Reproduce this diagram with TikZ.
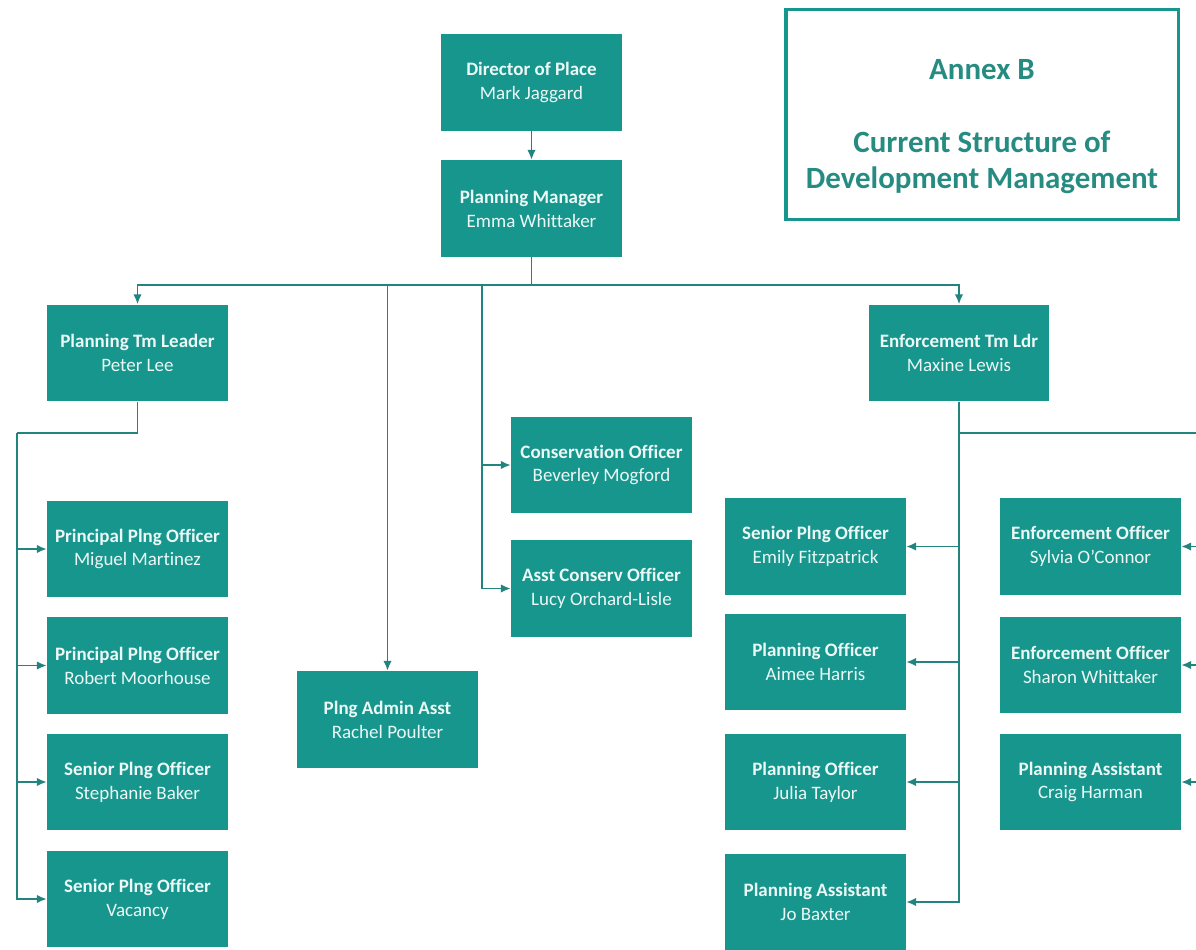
\documentclass[tikz,border=0pt]{standalone}
\usepackage{fontspec}
\setmainfont[Ligatures=NoCommon]{Carlito}
\usetikzlibrary{arrows.meta,positioning}
\definecolor{dmteal}{RGB}{22,150,141}
\definecolor{dmline}{RGB}{34,132,126}
\definecolor{dmtext}{RGB}{236,248,246}
\definecolor{dmhead}{RGB}{38,140,130}
\tikzset{%
  font=\fontsize{13.5}{17}\selectfont,>={Latex[length=7pt,width=6pt]},
  post/.style={rectangle,fill=dmteal,text=dmtext,minimum width=4.52cm,%
    minimum height=2.42cm,align=center,inner sep=2pt},
  link/.style={draw=dmline,line width=1.3pt},
  annexbox/.style={rectangle,draw=dmteal,line width=2.2pt,minimum width=9.8cm,%
    minimum height=5.25cm},
  annextext/.style={align=center,text=dmhead,%
    font=\fontsize{22}{26}\selectfont\bfseries}
}
\newcommand{\post}[2]{\textbf{#1}\\#2}
\begin{document}
\begin{tikzpicture}[x=0.025cm,y=-0.025cm]
	\useasboundingbox (0,0) rectangle (1196,949);
	% heading
	\node[annexbox] (annex) at (982,114.5) {};
	\node[annextext] (annextitle) at ([yshift=-0.3cm]annex.center)
		{Annex B\\[26pt]Current Structure of\\Development Management};
	% top of the tree
	\node[post] (dir) at (531.5,82.5) {\post{Director of Place}{Mark Jaggard}};
	\node[post] (mgr) at (531.5,208.5) {\post{Planning Manager}{Emma Whittaker}};
	\node[post] (ptl) at (137.5,353) {\post{Planning Tm Leader}{Peter Lee}};
	\node[post] (etl) at (959,353) {\post{Enforcement Tm Ldr}{Maxine Lewis}};
	\node[post] (adm) at (387.5,719.5) {\post{Plng Admin Asst}{Rachel Poulter}};
	\node[post] (cons) at (601.5,465) {\post{Conservation Officer}{Beverley Mogford}};
	\node[post] (acons) at (601.5,588.5) {\post{Asst Conserv Officer}{Lucy Orchard-Lisle}};
	% planning team
	\node[post] (pp1) at (137.5,549) {\post{Principal Plng Officer}{Miguel Martinez}};
	\node[post] (pp2) at (137.5,665.5) {\post{Principal Plng Officer}{Robert Moorhouse}};
	\node[post] (sp1) at (137.5,782) {\post{Senior Plng Officer}{Stephanie Baker}};
	\node[post] (sp2) at (137.5,899) {\post{Senior Plng Officer}{Vacancy}};
	% enforcement team
	\node[post] (es1) at (815.5,546.5) {\post{Senior Plng Officer}{Emily Fitzpatrick}};
	\node[post] (eo1) at (815.5,662) {\post{Planning Officer}{Aimee Harris}};
	\node[post] (eo2) at (815.5,782) {\post{Planning Officer}{Julia Taylor}};
	\node[post] (ea1) at (815.5,902) {\post{Planning Assistant}{Jo Baxter}};
	\node[post] (ef1) at (1090.5,546.5) {\post{Enforcement Officer}{Sylvia O'Connor}};
	\node[post] (ef2) at (1090.5,665) {\post{Enforcement Officer}{Sharon Whittaker}};
	\node[post] (ea2) at (1090.5,782) {\post{Planning Assistant}{Craig Harman}};
	% rails
	\coordinate (bus) at (531.5,285);
	\coordinate (cbus) at (482,285);
	\coordinate (lrail) at (17,433);
	\coordinate (rrail) at (959,433);
	\coordinate (farr) at (1202,433);
	% connectors
	\draw[link,->] (dir) -- (mgr);
	\draw[link] (mgr.south) -- (bus);
	\draw[link,->] (bus) -| (ptl.north);
	\draw[link,->] (bus) -| (etl.north);
	\draw[link,->] (bus) -| (adm.north);
	\foreach \n in {cons,acons}
		\draw[link,->] (cbus) |- (\n.west);
	\draw[link] (ptl.south) |- (lrail);
	\foreach \n in {pp1,pp2,sp1,sp2}
		\draw[link,->] (lrail) |- (\n.west);
	\draw[link] (rrail) -- (farr);
	\foreach \n in {es1,eo1,eo2,ea1}
		\draw[link,->] (etl.south) |- (\n.east);
	\foreach \n in {ef1,ef2,ea2}
		\draw[link,->] (farr) |- (\n.east);
\end{tikzpicture}
\end{document}
